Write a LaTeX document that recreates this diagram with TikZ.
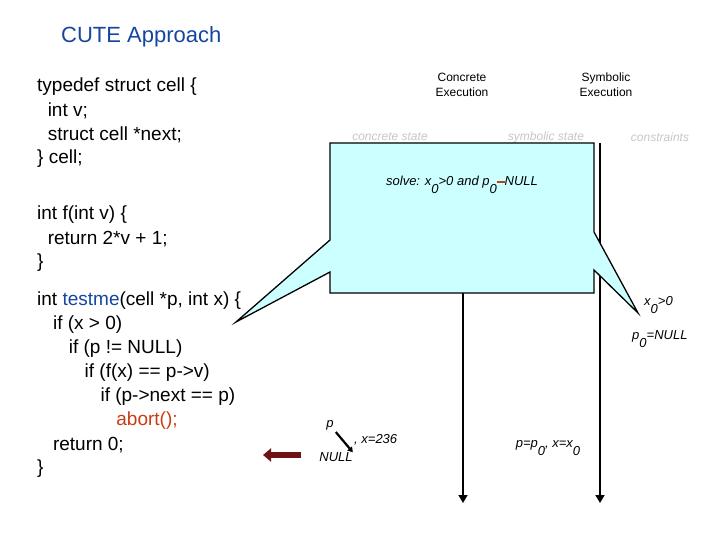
\documentclass[tikz,border=0pt]{standalone}
\usepackage{fontspec}
\setmainfont{Liberation Sans}
\usetikzlibrary{positioning,arrows.meta}
\definecolor{calloutfill}{RGB}{204,255,255}
\definecolor{titleblue}{RGB}{20,70,160}
\definecolor{keyred}{RGB}{200,60,20}
\definecolor{maroon}{RGB}{110,20,20}
\begin{document}
\begin{tikzpicture}[x=1pt, y=-1pt,
    code/.style={anchor=west, inner sep=0pt, font=\fontsize{19}{22}\selectfont},
    head/.style={align=center, inner sep=0pt, font=\fontsize{12}{15}\selectfont},
    state/.style={inner sep=0pt, text=gray!45, font=\fontsize{12}{14}\selectfont\itshape},
    small/.style={inner sep=0pt, font=\fontsize{13}{15}\selectfont\itshape},
    flow/.style={-{Triangle[length=8pt, width=9pt]}, line width=1.6pt},
]
\useasboundingbox (0,0) rectangle (720,540);

% Title
\node[anchor=west, inner sep=0pt, text=titleblue, font=\fontsize{22}{24}\selectfont] (title) at (61,37) {CUTE Approach};

% Code
\node[code] (l1) at (37,87) {typedef struct cell \{};
\node[code] (l2) at (37,111) {\ \ int v;};
\node[code] (l3) at (37,135) {\ \ struct cell *next;};
\node[code] (l4) at (37,159) {\} cell;};
\node[code] (l5) at (37,215) {int f(int v) \{};
\node[code] (l6) at (37,239) {\ \ return 2*v + 1;};
\node[code] (l7) at (37,263) {\}};
\node[code] (l8) at (37,301) {int \textcolor{titleblue}{testme}(cell *p, int x) \{};
\node[code] (l9) at (37,325) {\ \ \ if (x > 0)};
\node[code] (l10) at (37,349) {\ \ \ \ \ \ if (p != NULL)};
\node[code] (l11) at (37,373) {\ \ \ \ \ \ \ \ \ if (f(x) == p->v)};
\node[code] (l12) at (37,397) {\ \ \ \ \ \ \ \ \ \ \ \ if (p->next == p)};
\node[code] (l13) at (37,421) {\ \ \ \ \ \ \ \ \ \ \ \ \ \ \ \textcolor{keyred}{abort();}};
\node[code] (l14) at (37,445) {\ \ \ return 0;};
\node[code] (l15) at (37,469) {\}};

% Headings
\node[head] (conc) at (462,85) {Concrete\\Execution};
\node[head] (symb) at (606,85) {Symbolic\\Execution};
\node[state] (cstate) at (390,137) {concrete state};
\node[state] (sstate) at (546,137) {symbolic state};
\node[state] (cons) at (660,137) {constraints};

% Timelines
\coordinate (ctop) at (463,293);
\coordinate (cbot) at (463,503);
\coordinate (stop) at (600,143);
\coordinate (sbot) at (600,503);
\draw[flow] (ctop) -- (cbot);
\draw[flow] (stop) -- (sbot);

% Callout
\coordinate (tipl) at (236,322);
\coordinate (tipr) at (638,313);
\draw[fill=calloutfill, line width=1.3pt]
  (330,143) -- (594,143) -- (594,232) -- (tipr) -- (594,270) -- (594,293)
  -- (330,293) -- (330,272) -- (tipl) -- (330,240) -- cycle;
\node[small] (solve) at (462,185) {solve: x\raisebox{-1.2ex}{0}>0 and p\raisebox{-1.2ex}{0}\textcolor{keyred}{\rule[0.3ex]{0.6em}{0.35ex}}NULL};

% Constraints
\node[small, anchor=west] (c1) at (644,305) {x\raisebox{-1.2ex}{0}>0};
\node[small, anchor=west] (c2) at (632,339) {p\raisebox{-1.2ex}{0}=NULL};

% Concrete state
\node[small] (pv) at (330,425) {p};
\node[small] (nullv) at (336,457) {NULL};
\node[small, anchor=west] (xv) at (354,440) {, x=236};
\draw[-{Triangle[length=5pt,width=6pt]}, line width=2.2pt] (pv.south east) ++(2,2) coordinate (pa) (pa) -- (nullv.north east);

% Symbolic state
\node[small] (sym) at (548,448) {p=p\raisebox{-1.2ex}{0}, x=x\raisebox{-1.2ex}{0}};

% Current line marker
\coordinate (mr) at (301,455);
\coordinate (ml) at (263,455);
\draw[-{Triangle[length=8pt,width=13pt]}, line width=6pt, maroon] (mr) -- (ml);
\end{tikzpicture}
\end{document}
